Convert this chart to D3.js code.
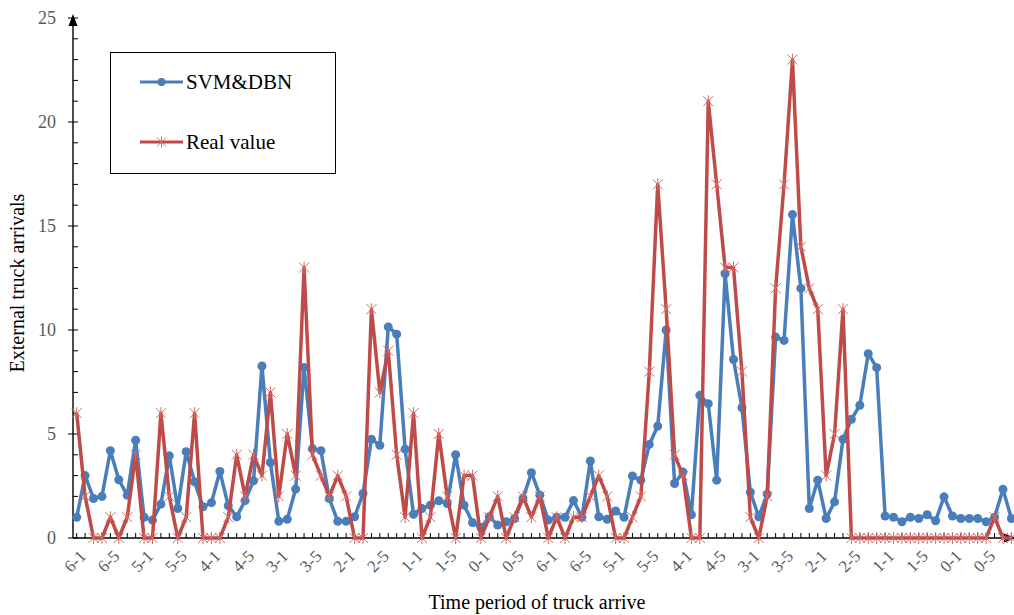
<!DOCTYPE html>
<html>
<head>
<meta charset="utf-8">
<script src="https://cdn.jsdelivr.net/npm/d3@7"></script>
<style>
  html, body { margin: 0; padding: 0; background: #fff; }
  svg { display: block; }
  text { font-family: "Liberation Serif", "Times New Roman", serif; }
</style>
</head>
<body>
<div id="chart"></div>
<script>
// ---- data ----
const periodLabels = ["6-1","6-5","5-1","5-5","4-1","4-5","3-1","3-5","2-1","2-5","1-1","1-5","0-1","0-5"];
const xTickLabels = periodLabels.concat(periodLabels); // one label every 4 periods
const yTickValues = [0, 5, 10, 15, 20, 25];

const svmDbn = [
  1.0, 3.0, 1.9, 2.0, 4.2, 2.8, 2.05, 4.7, 1.0, 0.86,
  1.63, 3.95, 1.42, 4.15, 2.7, 1.5, 1.7, 3.2, 1.55, 1.02,
  1.8, 2.75, 8.27, 3.63, 0.8, 0.9, 2.35, 8.2, 4.3, 4.2,
  1.9, 0.8, 0.8, 1.02, 2.14, 4.75, 4.46, 10.15, 9.8, 4.27,
  1.14, 1.42, 1.58, 1.79, 1.66, 4.0, 1.58, 0.74, 0.5, 1.02,
  0.62, 0.78, 0.94, 1.9, 3.14, 2.06, 0.86, 1.0, 1.0, 1.8,
  1.0, 3.7, 1.02, 0.9, 1.3, 1.0, 2.98, 2.78, 4.5, 5.38,
  10.0, 2.62, 3.17, 1.12, 6.86, 6.46, 2.78, 12.7, 8.58, 6.26,
  2.2, 1.02, 2.11, 9.66, 9.5, 15.55, 12.0, 1.42, 2.78, 0.94,
  1.74, 4.75, 5.71, 6.38, 8.86, 8.19, 1.06, 1.0, 0.78, 1.0,
  0.94, 1.12, 0.83, 1.98, 1.06, 0.94, 0.94, 0.94, 0.78, 1.0,
  2.34, 0.94
];
const realValue = [
  6, 2, 0, 0, 1, 0, 1, 4, 0, 0,
  6, 2, 0, 1, 6, 0, 0, 0, 1, 4,
  2, 4, 3, 7, 2, 5, 3, 13, 4, 3,
  2, 3, 2, 0, 0, 11, 7, 9, 4, 1,
  6, 0, 1, 5, 2, 0, 3, 3, 0, 1,
  2, 0, 1, 2, 1, 2, 0, 1, 0, 1,
  1, 2, 3, 2, 0, 0, 1, 2, 8, 17,
  11, 4, 3, 0, 0, 21, 17, 13, 13, 8,
  1, 0, 2, 12, 17, 23, 14, 12, 11, 3,
  5, 11, 0, 0, 0, 0, 0, 0, 0, 0,
  0, 0, 0, 0, 0, 0, 0, 0, 0, 1,
  0, 0
];
const seriesNames = ["SVM&DBN", "Real value"];
const seriesColors = ["#4A7EBB", "#BE4B48"];

// ---- layout ----
const W = 1014, H = 615;
const svg = d3.select("#chart").append("svg").attr("width", W).attr("height", H);

const n = realValue.length;
const x = d3.scaleLinear().domain([0, n - 1]).range([76.7, 1011.4]);
const y = d3.scaleLinear().domain([0, 25]).range([538, 18]);
const axisX0 = 73;
const gray = "#595959";

// y axis
const yAxis = d3.axisLeft(y).tickValues(yTickValues).tickSize(0).tickPadding(17).tickFormat(d3.format("d"));
const gy = svg.append("g").attr("transform", `translate(${axisX0},0)`).call(yAxis);
gy.select(".domain").remove();
gy.selectAll("text").attr("fill", gray).style("font-size", "18px");
// minor ticks (inside)
svg.append("g").selectAll("line").data(d3.range(0, 26)).join("line")
  .attr("x1", axisX0).attr("x2", axisX0 + 5)
  .attr("y1", d => y(d)).attr("y2", d => y(d))
  .attr("stroke", "#000").attr("stroke-width", 1);
// major ticks outside
svg.append("g").selectAll("line").data(yTickValues).join("line")
  .attr("x1", axisX0 - 5).attr("x2", axisX0)
  .attr("y1", d => y(d)).attr("y2", d => y(d))
  .attr("stroke", "#000").attr("stroke-width", 1);
svg.append("line").attr("x1", axisX0).attr("x2", axisX0).attr("y1", y(0)).attr("y2", y(25) + 4)
  .attr("stroke", "#000").attr("stroke-width", 1.4);
svg.append("path").attr("d", `M${axisX0},${y(25) - 4} L${axisX0 - 4.5},${y(25) + 8} L${axisX0 + 4.5},${y(25) + 8} Z`).attr("fill", "#000");

// x axis
const y0 = y(0);
svg.append("line").attr("x1", axisX0).attr("x2", 1008).attr("y1", y0).attr("y2", y0)
  .attr("stroke", "#000").attr("stroke-width", 1.4);
svg.append("path").attr("d", `M1016,${y0} L1004,${y0 - 4.5} L1004,${y0 + 4.5} Z`).attr("fill", "#000");
svg.append("g").selectAll("line").data(d3.range(0, n)).join("line")
  .attr("x1", d => x(d)).attr("x2", d => x(d))
  .attr("y1", y0).attr("y2", y0 - 5)
  .attr("stroke", "#000").attr("stroke-width", 1);
svg.append("g").selectAll("text").data(xTickLabels).join("text")
  .attr("transform", (d, i) => `translate(${x(i * 4) + 6},${y0 + 15}) rotate(-45)`)
  .attr("text-anchor", "end")
  .attr("dy", "0.35em")
  .attr("fill", gray)
  .style("font-size", "17px")
  .text(d => d);

// axis titles
svg.append("text").attr("transform", `translate(24,${(y0 + 18) / 2 + 5}) rotate(-90)`)
  .attr("text-anchor", "middle").style("font-size", "20px").attr("fill", "#000")
  .text("External truck arrivals");
svg.append("text").attr("x", 537).attr("y", 609)
  .attr("text-anchor", "middle").style("font-size", "20px").attr("fill", "#000")
  .text("Time period of truck arrive");

// lines
const line = d3.line().x((d, i) => x(i)).y(d => y(d));

function asterisk(g, cx, cy, color, r) {
  g.append("line").attr("x1", cx - r).attr("x2", cx + r).attr("y1", cy - r).attr("y2", cy + r)
    .attr("stroke", color).attr("stroke-width", 1);
  g.append("line").attr("x1", cx - r).attr("x2", cx + r).attr("y1", cy + r).attr("y2", cy - r)
    .attr("stroke", color).attr("stroke-width", 1);
  g.append("line").attr("x1", cx).attr("x2", cx).attr("y1", cy - r * 1.2).attr("y2", cy + r * 1.2)
    .attr("stroke", color).attr("stroke-width", 1);
}

// blue series
svg.append("path").datum(svmDbn).attr("d", line)
  .attr("fill", "none").attr("stroke", seriesColors[0]).attr("stroke-width", 3.5).attr("stroke-linejoin", "round");
svg.append("g").selectAll("circle").data(svmDbn).join("circle")
  .attr("cx", (d, i) => x(i)).attr("cy", d => y(d)).attr("r", 4.5)
  .attr("fill", seriesColors[0]);

// red series
svg.append("path").datum(realValue).attr("d", line)
  .attr("fill", "none").attr("stroke", seriesColors[1]).attr("stroke-width", 3.5).attr("stroke-linejoin", "round");
const redMarks = svg.append("g");
realValue.forEach((d, i) => asterisk(redMarks, x(i), y(d), "#D46A67", 5));

// legend
const lg = svg.append("g");
lg.append("rect").attr("x", 110.5).attr("y", 52.5).attr("width", 225).attr("height", 121)
  .attr("fill", "#fff").attr("stroke", "#000").attr("stroke-width", 1);
const legY = [82, 142];
seriesNames.forEach((name, k) => {
  lg.append("line").attr("x1", 140).attr("x2", 183).attr("y1", legY[k]).attr("y2", legY[k])
    .attr("stroke", seriesColors[k]).attr("stroke-width", 3);
  if (k === 0) {
    lg.append("circle").attr("cx", 161.5).attr("cy", legY[k]).attr("r", 4).attr("fill", seriesColors[k]);
  } else {
    asterisk(lg, 161.5, legY[k], "#D46A67", 4.5);
  }
  lg.append("text").attr("x", 186).attr("y", legY[k]).attr("dy", "0.35em")
    .style("font-size", "21px").attr("fill", "#000").text(name);
});
</script>
</body>
</html>
